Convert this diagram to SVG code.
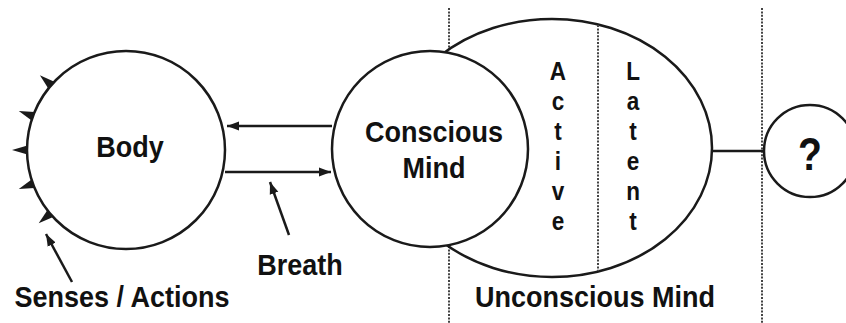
<svg xmlns="http://www.w3.org/2000/svg" width="846" height="323" viewBox="0 0 846 323">
<style>
.shape{fill:#fff;stroke:#1a1a1a;stroke-width:2.5}
.dot{stroke:#444;stroke-width:2;stroke-dasharray:2 1.4;fill:none}
.line{stroke:#1a1a1a;stroke-width:2.5;fill:none}
.lbl{font-family:"Liberation Sans",Arial,sans-serif;font-weight:bold;font-size:30px;fill:#111;text-anchor:middle}
.vl{font-family:"Liberation Sans",Arial,sans-serif;font-weight:bold;font-size:26.5px;fill:#111;text-anchor:middle}
.tick{fill:#1a1a1a}
</style>
<defs>
<marker id="ah" markerUnits="userSpaceOnUse" markerWidth="13" markerHeight="10" refX="12" refY="5" orient="auto">
<path d="M0,0.5 L12,5 L0,9.5 z" fill="#1a1a1a"/>
</marker>
</defs>
<rect width="846" height="323" fill="#fff"/>
<g id="guides">
<line class="dot" x1="449" y1="8" x2="449" y2="323"/>
<line class="dot" x1="762" y1="8" x2="762" y2="323"/>
</g>
<g id="unconscious">
<ellipse class="shape" cx="552" cy="148" rx="160" ry="129"/>
<line class="dot" x1="598" y1="25" x2="598" y2="271"/>
<g transform="translate(558,0) scale(0.85,1)">
<text class="vl" x="0" y="80">A</text>
<text class="vl" x="0" y="110">c</text>
<text class="vl" x="0" y="140">t</text>
<text class="vl" x="0" y="170">i</text>
<text class="vl" x="0" y="200">v</text>
<text class="vl" x="0" y="230">e</text>
</g>
<g transform="translate(633,0) scale(0.85,1)">
<text class="vl" x="0" y="80">L</text>
<text class="vl" x="0" y="110">a</text>
<text class="vl" x="0" y="140">t</text>
<text class="vl" x="0" y="170">e</text>
<text class="vl" x="0" y="200">n</text>
<text class="vl" x="0" y="230">t</text>
</g>
<text class="lbl" transform="translate(595,307) scale(0.9,1)">Unconscious Mind</text>
</g>
<g id="conscious">
<circle class="shape" cx="430" cy="149" r="98"/>
<text class="lbl" transform="translate(434,142) scale(0.9,1)">Conscious</text>
<text class="lbl" transform="translate(434,178) scale(0.9,1)">Mind</text>
</g>
<g id="body">
<circle class="shape" cx="126" cy="150" r="99"/>
<text class="lbl" transform="translate(130,157) scale(0.9,1)">Body</text>
<polygon class="tick" points="54.3,81.7 48.3,88.5 39.9,75.2"/>
<polygon class="tick" points="34.5,111.9 31.3,120.3 18.8,111.0"/>
<polygon class="tick" points="27.5,145.5 27.5,154.5 12,150"/>
<polygon class="tick" points="31.3,179.7 34.5,188.1 18.8,189"/>
<polygon class="tick" points="47.3,210.2 53.1,217.1 38.7,223.3"/>
</g>
<g id="unknown">
<circle class="shape" cx="810" cy="151" r="46"/>
<text class="lbl" style="font-size:46px" transform="translate(810,170) scale(0.85,1)">?</text>
</g>
<g id="labels">
<text class="lbl" transform="translate(300,275) scale(0.9,1)">Breath</text>
<text class="lbl" transform="translate(122,307) scale(0.9,1)">Senses / Actions</text>
</g>
<g id="connectors">
<line class="line" x1="332" y1="126" x2="227" y2="126" marker-end="url(#ah)"/>
<line class="line" x1="225" y1="172" x2="331" y2="172" marker-end="url(#ah)"/>
<line class="line" x1="289" y1="235" x2="270" y2="182" marker-end="url(#ah)"/>
<line class="line" x1="72" y1="282" x2="46" y2="234" marker-end="url(#ah)"/>
<line class="line" x1="712" y1="151" x2="764" y2="151"/>
</g>
</svg>
